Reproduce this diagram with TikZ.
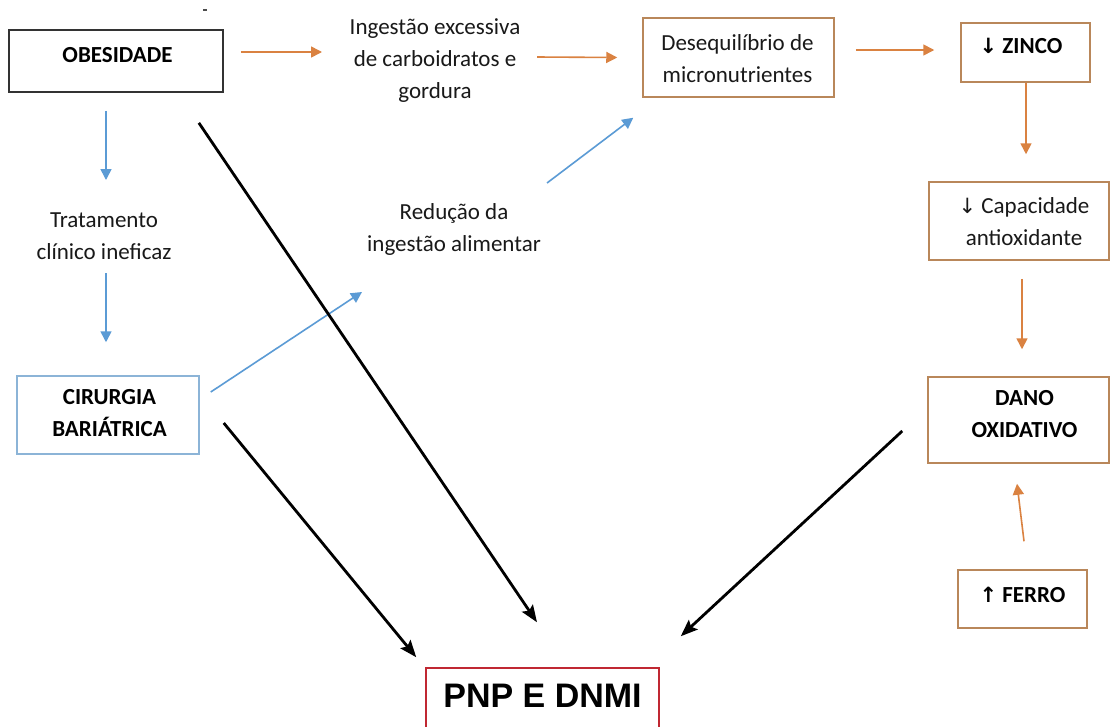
\documentclass[tikz,border=0pt]{standalone}
\usepackage{fontspec}
\setmainfont{Carlito}
\newfontfamily\arialf{Liberation Sans}
\newfontfamily\symf{DejaVu Sans}
\usetikzlibrary{arrows.meta,calc}
\definecolor{orgline}{RGB}{218,130,65}
\definecolor{tanbox}{RGB}{185,135,90}
\definecolor{blueline}{RGB}{91,155,213}
\definecolor{bluebox}{RGB}{140,180,215}
\definecolor{redbox}{RGB}{192,40,50}
\definecolor{txtcol}{RGB}{25,25,25}
\begin{document}
\begin{tikzpicture}[x=1pt,y=-1pt,
  txt/.style={font=\fontsize{23}{32}\selectfont, text=txtcol, align=center, inner sep=0pt},
  btxt/.style={font=\fontsize{23}{32}\selectfont\bfseries, text=black, align=center, inner sep=0pt},
  boxbase/.style={rectangle, inner sep=0pt, line width=1.5pt},
  tanbx/.style={boxbase, draw=tanbox},
  blackbx/.style={boxbase, draw=black!80, line width=1.7pt},
  bluebx/.style={boxbase, draw=bluebox},
  redbx/.style={boxbase, draw=redbox},
  oarr/.style={draw=orgline, line width=1.6pt, -{Triangle[length=11pt,width=11pt]}},
  barr/.style={draw=blueline, line width=1.6pt, -{Triangle[length=11pt,width=11pt]}},
  karr/.style={draw=black, line width=2.8pt, -{Stealth[length=17pt,width=13pt,inset=3pt]}},
]
\fill[white] (0,0) rectangle (1110,726);
\useasboundingbox (0,0) rectangle (1110,726);

% boxes
\node[blackbx, minimum width=214pt, minimum height=62pt] (obes) at (116,61) {};
\node[tanbx, minimum width=191pt, minimum height=79pt] (deseq) at (738.5,57.5) {};
\node[tanbx, minimum width=129pt, minimum height=59pt] (zinco) at (1025.5,52.5) {};
\node[tanbx, minimum width=180pt, minimum height=78pt] (cap) at (1019,221) {};
\node[tanbx, minimum width=181pt, minimum height=86pt] (dano) at (1018.5,420) {};
\node[tanbx, minimum width=129pt, minimum height=58pt] (ferro) at (1022.5,599) {};
\node[bluebx, minimum width=182pt, minimum height=78pt] (cir) at (108,415) {};
\node[redbx, minimum width=233pt, minimum height=72pt] (pnp) at (542.5,704) {};

% texts
\node[btxt] (obesT) at (117.5,55) {OBESIDADE};
\node[txt] (ingT) at (435,61) {Ingestão excessiva\\de carboidratos e\\gordura};
\node[txt] (deseqT) at (737.5,58.5) {Desequilíbrio de\\micronutrientes};
\node[btxt] (zincoT) at (1021,46) {{\symf\bfseries\fontsize{21}{24}\selectfont ↓} ZINCO};
\node[txt] (capT) at (1024,221.5) {{\symf\fontsize{21}{24}\selectfont ↓} Capacidade\\antioxidante};
\node[btxt] (danoT) at (1024.5,414.5) {DANO\\OXIDATIVO};
\node[btxt] (ferroT) at (1022.5,594.5) {{\symf\bfseries\fontsize{21}{24}\selectfont ↑} FERRO};
\node[btxt] (cirT) at (109.5,413.5) {CIRURGIA\\BARIÁTRICA};
\node[txt] (tratT) at (104,236) {Tratamento\\clínico ineficaz};
\node[txt] (redT) at (454,229) {Redução da\\ingestão alimentar};
\node[font=\arialf\bfseries\fontsize{34}{40}\selectfont, inner sep=0pt] (pnpT) at (542.5,695.5) {PNP E DNMI};

% stray mark
\draw[line width=1.4pt, black!70] (203,10) -- (207,10);

% connector ends
\coordinate (a1s) at ($(obes.east)+(17,-9)$);
\coordinate (a1e) at ($(ingT)+(-113,-9)$);
\coordinate (a2s) at ($(ingT)+(102,-4)$);
\coordinate (a2e) at ($(deseq.west)+(-25,0)$);
\coordinate (a3s) at ($(deseq.east)+(21,-7.5)$);
\coordinate (a3e) at ($(zinco.west)+(-26,-2.5)$);
\coordinate (a4s) at ($(zinco.south)+(0.5,0)$);
\coordinate (a4e) at ($(cap.north)+(7,-27)$);
\coordinate (a5s) at ($(cap.south)+(3,18)$);
\coordinate (a5e) at ($(dano.north)+(3.5,-27)$);
\coordinate (a6s) at ($(ferro.north)+(1.5,-28)$);
\coordinate (a6e) at ($(dano.south)+(-1.5,20)$);
\coordinate (b1s) at ($(obes.south)+(-10,18)$);
\coordinate (b1e) at ($(tratT)+(2,-56)$);
\coordinate (b2s) at ($(tratT)+(2,37)$);
\coordinate (b2e) at ($(cir.north)+(-2,-33)$);
\coordinate (b3s) at ($(cir.east)+(11,-23)$);
\coordinate (b3e) at ($(redT)+(-92,63)$);
\coordinate (b4s) at ($(redT)+(93,-46)$);
\coordinate (b4e) at ($(deseq.south west)+(-9,20)$);
\coordinate (k1s) at ($(obes.south east)+(-25,30)$);
\coordinate (k1e) at ($(pnp.north)+(-5.5,-45)$);
\coordinate (k2s) at ($(cir.east)+(24,8)$);
\coordinate (k2e) at ($(pnp.north west)+(-9,-10)$);
\coordinate (k3s) at ($(dano.west)+(-25,11)$);
\coordinate (k3e) at ($(pnp.north east)+(21,-31)$);

% orange
\draw[oarr] (a1s) -- (a1e);
\draw[oarr] (a2s) -- (a2e);
\draw[oarr] (a3s) -- (a3e);
\draw[oarr] (a4s) -- (a4e);
\draw[oarr] (a5s) -- (a5e);
\draw[oarr] (a6s) -- (a6e);
% blue
\draw[barr] (b1s) -- (b1e);
\draw[barr] (b2s) -- (b2e);
\draw[barr] (b3s) -- (b3e);
\draw[barr] (b4s) -- (b4e);
% black
\draw[karr] (k1s) -- (k1e);
\draw[karr] (k2s) -- (k2e);
\draw[karr] (k3s) -- (k3e);
\end{tikzpicture}
\end{document}
